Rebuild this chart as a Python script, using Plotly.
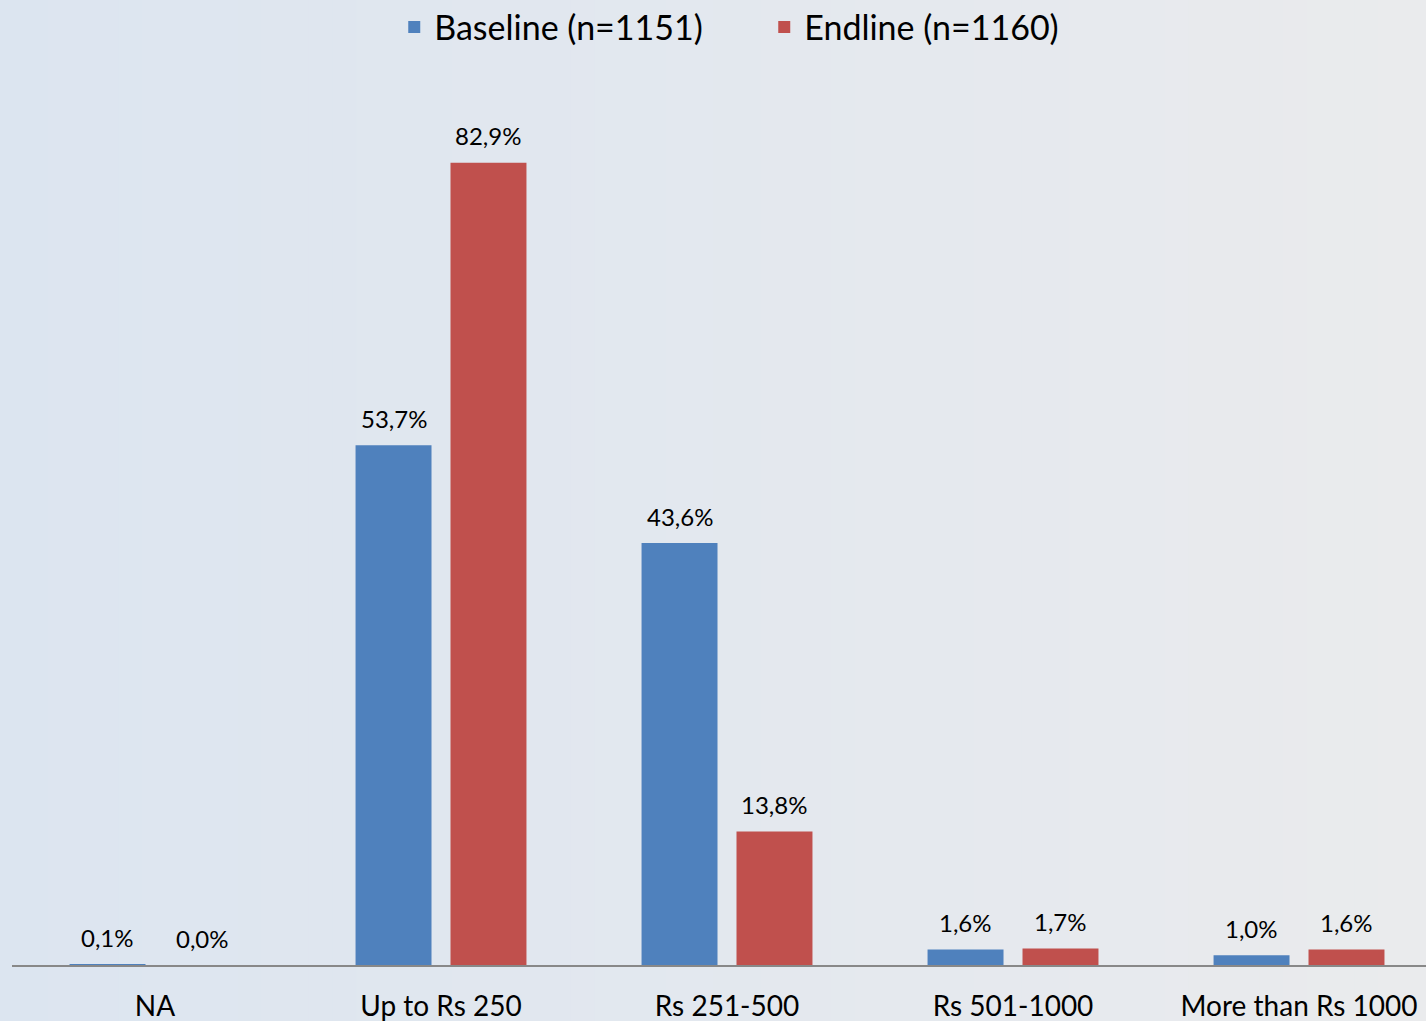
import plotly.graph_objects as go

# Monthly amount spent: share of households per spending bracket
categories = ["NA", "Up to Rs 250", "Rs 251-500", "Rs 501-1000", "More than Rs 1000"]
baseline_pct = [0.1, 53.7, 43.6, 1.6, 1.0]
endline_pct = [0.0, 82.9, 13.8, 1.7, 1.6]
series_names = ["Baseline (n=1151)", "Endline (n=1160)"]
series_colors = ["#4F81BD", "#C0504D"]

W, H = 1426, 1021
M_L, M_R, M_T, M_B = 12, 0, 94, 56
BARGAP, BARGROUPGAP = 0.336, 0.2
FONT = "Lato"

fig = go.Figure()
for name, vals, col in zip(series_names, [baseline_pct, endline_pct], series_colors):
    fig.add_trace(go.Bar(
        x=categories, y=vals, name=name,
        marker=dict(color=col, line=dict(width=0)),
        hoverinfo="x+y",
    ))

# value labels above each bar, placed at the centre of its slot in the group
slot = (1 - BARGAP) / 2
annotations = []
for k, vals in enumerate([baseline_pct, endline_pct]):
    off = (k - 0.5) * slot
    for i, v in enumerate(vals):
        annotations.append(dict(
            x=i + off, y=v, xref="x", yref="y",
            text=f"{v:.1f}%".replace(".", ","),
            showarrow=False, yanchor="middle", yshift=27,
            font=dict(family=FONT, size=24, color="#000000"),
        ))

# soft left-to-right background gradient across the whole canvas
pw, ph = W - M_L - M_R, H - M_T - M_B
c0, c1 = (220, 229, 240), (234, 235, 237)
n_strips = 60
shapes = []
for s in range(n_strips):
    t = (s + 0.5) / n_strips
    col = tuple(round(a + (b - a) * t) for a, b in zip(c0, c1))
    px0, px1 = W * s / n_strips, W * (s + 1) / n_strips + 1
    shapes.append(dict(
        type="rect", xref="paper", yref="paper", layer="below",
        x0=(px0 - M_L) / pw, x1=(px1 - M_L) / pw,
        y0=-(M_B + 2) / ph, y1=1 + (M_T + 2) / ph,
        fillcolor="rgb(%d,%d,%d)" % col, line=dict(width=0),
    ))

fig.update_layout(
    width=W, height=H,
    margin=dict(l=M_L, r=M_R, t=M_T, b=M_B, pad=0, autoexpand=False),
    paper_bgcolor="rgb(227,232,239)",
    plot_bgcolor="rgba(0,0,0,0)",
    barmode="group", bargap=BARGAP, bargroupgap=BARGROUPGAP,
    separators=",.",
    font=dict(family=FONT, color="#000000"),
    showlegend=True,
    legend=dict(
        orientation="h", x=0.532, xanchor="center", y=1.0766, yanchor="middle",
        font=dict(family=FONT, size=34, color="#000000"),
        bgcolor="rgba(0,0,0,0)", itemclick=False,
        entrywidth=325,
    ),
    shapes=shapes,
    annotations=annotations,
)
fig.update_xaxes(
    type="category", range=[-0.5, 4.444], automargin=False,
    showline=True, linecolor="#888888", linewidth=2,
    showgrid=False, zeroline=False,
    ticks="outside", ticklen=15, tickcolor="rgba(0,0,0,0)",
    tickfont=dict(family=FONT, size=28, color="#000000"),
)
fig.update_yaxes(
    range=[0, 90], visible=False, showgrid=False, zeroline=False,
    automargin=False,
)

fig.write_html("out.html", config={"displayModeBar": False})
